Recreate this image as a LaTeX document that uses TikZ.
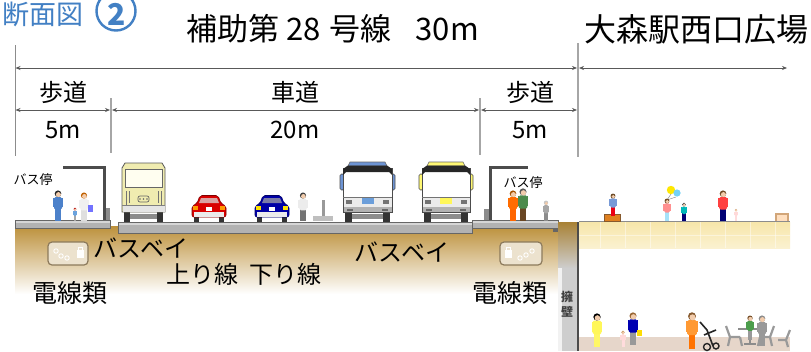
\documentclass[tikz,border=0pt]{standalone}
\usepackage{fontspec}
\setmainfont{Noto Sans CJK JP}
\usetikzlibrary{arrows.meta}

\definecolor{titleblue}{RGB}{66,128,196}
\definecolor{soil}{RGB}{198,152,62}
\definecolor{busyellow}{RGB}{240,236,176}
\definecolor{plazatop}{RGB}{247,230,170}
\definecolor{plazafloor}{RGB}{230,214,202}
\definecolor{wallgray}{RGB}{206,206,206}
\definecolor{skin}{RGB}{242,204,172}
\definecolor{conduitfill}{RGB}{236,226,206}
\definecolor{conduitedge}{RGB}{140,122,92}

\tikzset{
  dimline/.style={draw=black!65, line width=0.7pt,
    {Stealth[length=5pt,width=4pt]}-{Stealth[length=5pt,width=4pt]}},
  edgeline/.style={draw=black!45, line width=1pt},
  tickline/.style={draw=black!35, line width=2pt},
  hdr/.style={inner sep=0pt, font=\fontsize{31}{31}\selectfont},
  dimlabel/.style={inner sep=0pt, font=\fontsize{24}{24}\selectfont},
  undertext/.style={inner sep=0pt, font=\fontsize{24}{24}\selectfont},
  stoptext/.style={inner sep=0pt, font=\fontsize{13}{13}\selectfont},
  shelter/.style={draw=black!70, line width=3pt},
  conduit/.style={draw=conduitedge, fill=conduitfill, line width=1.2pt, rounded corners=4pt},
  slab/.style={fill=black!30, draw=black!60, line width=0.8pt},
}

% a standing figure: x, foot y, height, hair, top, bottom
\newcommand\walker[6]{%
  \begin{scope}[shift={(#1,#2)}, scale={#3/30}]
    \fill[#6] (-2.8,0) rectangle (-0.4,-13.5);
    \fill[#6] (0.4,0) rectangle (2.8,-13.5);
    \fill[#5, rounded corners=1.5pt] (-4,-11.5) rectangle (4,-24);
    \fill[#5] (-4.9,-23) rectangle (-3.3,-14);
    \fill[#5] (3.3,-23) rectangle (4.9,-14);
    \fill[#4] (0,-27.3) circle (3.3);
    \fill[skin] (0.4,-26.4) circle (2.5);
  \end{scope}}

% a bus seen from the front: left x, width, roof colour, plate colour
\newcommand\coach[4]{%
  \begin{scope}[shift={(#1,0)}]
    \fill[black!80] (2,211) rectangle (9,222);
    \fill[black!80] (#2-9,211) rectangle (#2-2,222);
    \fill[black!45] (9,214) rectangle (#2-9,219);
    \filldraw[fill=#3, draw=black!70, line width=0.6pt, rounded corners=1.5pt] (-3,174) rectangle (1,190);
    \filldraw[fill=#3, draw=black!70, line width=0.6pt, rounded corners=1.5pt] (#2-1,174) rectangle (#2+3,190);
    \filldraw[fill=white, draw=black!70, line width=0.8pt] (0,168) rectangle (#2,212);
    \filldraw[fill=#3, draw=black!60, line width=0.6pt] (5,166) -- (7,162) -- (#2-7,162) -- (#2-5,166) -- cycle;
    \fill[black!85] (0,169) -- (5,165.5) -- (#2-5,165.5) -- (#2,169) -- (#2,175) -- (#2-3,172) -- (3,172) -- (0,175) -- cycle;
    \fill[black!8] (0.5,197) rectangle (#2-0.5,211.5);
    \draw[black!55, line width=0.6pt] (0,197) -- (#2,197);
    \fill[black!55] (3,200) rectangle (9,204);
    \fill[black!55] (#2-9,200) rectangle (#2-3,204);
    \fill[#4] ({#2/2-6},198) rectangle ({#2/2+6},204);
    \fill[black!30] (0.5,207) rectangle (#2-0.5,211.5);
    \fill[black!60] (4,208.5) rectangle (10,210.5);
    \fill[black!60] (#2-10,208.5) rectangle (#2-4,210.5);
  \end{scope}}

% a car seen from behind: centre x, body colour, outline colour, lamp colour
\newcommand\sedan[4]{%
  \begin{scope}[shift={(#1,0)}]
    \fill[black!80] (-15,214) rectangle (-10,222);
    \fill[black!80] (10,214) rectangle (15,222);
    \filldraw[fill=#2, draw=#3, line width=0.6pt, rounded corners=2pt]
      (-17,217) -- (-17,206) -- (-12,203.5) -- (-9,195.5) -- (9,195.5) -- (12,203.5) -- (17,206) -- (17,217) -- cycle;
    \fill[white!75!#2] (-8,198) -- (8,198) -- (10,203) -- (-10,203) -- cycle;
    \fill[#4] (-16,206) rectangle (-11,209.5);
    \fill[#4] (11,206) rectangle (16,209.5);
    \fill[black!8] (-15,212) rectangle (15,217);
    \fill[white] (-3,207) rectangle (3,211);
  \end{scope}}

\begin{document}
\begin{tikzpicture}[x=1pt, y=-1pt]
\useasboundingbox (0,0) rectangle (811,351);
\fill[white] (0,0) rectangle (811,351);

% ---------- headings ----------
\node[inner sep=0pt, anchor=east, text=titleblue, font=\fontsize{27}{27}\selectfont] (sec) at (84,14) {断面図};
\draw[titleblue, line width=2.4pt] (116,11) circle (19.5);
\node[inner sep=0pt, text=titleblue, font=\fontsize{30}{30}\selectfont\bfseries] (num2) at (116.5,14) {2};
\node[hdr, anchor=west] (route) at (186,29) {補助第\hspace{7pt}28\hspace{9pt}号線\hspace{24pt}30m};
\node[hdr, font=\fontsize{32}{32}\selectfont] (plaza) at (696,29) {大森駅西口広場};

% ---------- dimension lines ----------
\coordinate (eL) at (15,45);   \coordinate (eLb) at (15,156);
\coordinate (eR) at (578,43);  \coordinate (eRb) at (578,157);
\coordinate (t1) at (111,98);  \coordinate (t1b) at (111,153);
\coordinate (t2) at (480,98);  \coordinate (t2b) at (480,155);
\draw[edgeline] (eL) -- (eLb);
\draw[edgeline, line width=2pt, draw=black!35] (eR) -- (eRb);
\draw[tickline] (t1) -- (t1b);
\draw[tickline] (t2) -- (t2b);

\coordinate (a0) at (15.5,68);  \coordinate (a1) at (577,68);
\coordinate (a2) at (579,68);   \coordinate (a3) at (787,68);
\draw[dimline] (a0) -- (a1);
\draw[dimline] (a2) -- (a3);
\coordinate (b0) at (15.5,110); \coordinate (b1) at (110,110);
\coordinate (b2) at (112,110);  \coordinate (b3) at (479,110);
\coordinate (b4) at (481,110);  \coordinate (b5) at (577,110);
\draw[dimline] (b0) -- (b1);
\draw[dimline] (b2) -- (b3);
\draw[dimline] (b4) -- (b5);

\node[dimlabel] (walkL)  at (63,92)   {歩道};
\node[dimlabel] (walkLw) at (63,130)  {5m};
\node[dimlabel] (road)   at (295,92)  {車道};
\node[dimlabel] (roadw)  at (295,130) {20m};
\node[dimlabel] (walkR)  at (530,92)  {歩道};
\node[dimlabel] (walkRw) at (530,130) {5m};

% ---------- ground ----------
\shade[top color=soil!95!black, middle color=soil!50, bottom color=white] (15,226) rectangle (558,294);
\filldraw[slab] (15,220) rectangle (110,228);
\fill[black!16] (15.5,220.5) rectangle (109.5,222.5);
\filldraw[slab] (118,222) rectangle (472,233);
\fill[black!16] (118.5,222.5) rectangle (471.5,224.5);
\filldraw[slab] (472,220) rectangle (558,228);
\fill[black!16] (472.5,220.5) rectangle (557.5,222.5);
\fill[black!60] (553,228) rectangle (560,232);

% retaining wall
\fill[wallgray] (558,222) rectangle (578,351);
\shade[top color=soil!85!black, bottom color=wallgray] (558,222) rectangle (578,268);
\fill[white!90!gray] (558,268) rectangle (562,351);
\draw[black!70, line width=1.6pt] (578,222) -- (578,351);
\node[inner sep=0pt, font=\fontsize{12}{12}\selectfont\bfseries, text=black!75] (wallA) at (567,297) {擁};
\node[inner sep=0pt, font=\fontsize{12}{12}\selectfont\bfseries, text=black!75] (wallB) at (567,312) {壁};

% plaza decks
\shade[top color=plazatop, bottom color=plazatop!55] (579,222) rectangle (790,248);
\foreach \gx in {600,625,...,775} \draw[white, opacity=0.45, line width=0.6pt] (\gx,222) -- (\gx,248);
\draw[white, opacity=0.45, line width=0.6pt] (579,235) -- (790,235);
\draw[black!45, line width=0.8pt] (579,221.5) -- (790,221.5);
\fill[plazafloor] (579,337) rectangle (790,351);

% ---------- underground labels and conduits ----------
\node[undertext] (bayL)  at (141,248) {バスベイ};
\node[undertext] (upL)   at (202,274) {上り線};
\node[undertext] (downL) at (285,274) {下り線};
\node[undertext] (bayR)  at (402,252) {バスベイ};
\node[undertext, font=\fontsize{25}{25}\selectfont] (cabL) at (70,293)  {電線類};
\node[undertext, font=\fontsize{25}{25}\selectfont] (cabR) at (510,293) {電線類};

\draw[conduit] (48,242) rectangle (88,265);
\foreach \cx/\cy in {56/251,61/256,67/258} \draw[white, line width=0.9pt] (\cx,\cy) circle (2.2);
\fill[white] (77,250) rectangle (84,258);
\draw[white, line width=1pt] (78.5,250) -- (78.5,247) -- (82.5,247) -- (82.5,250);
\draw[conduit] (500,242) rectangle (542,265);
\fill[white] (505,250) rectangle (512,258);
\draw[white, line width=1pt] (506.5,250) -- (506.5,247) -- (510.5,247) -- (510.5,250);
\foreach \cx/\cy in {520/258,526/255,532/251} \draw[white, line width=0.9pt] (\cx,\cy) circle (2.2);

% ---------- bus stops ----------
\draw[shelter] (63,167) -- (104,167) -- (104,220);
\fill[black!45] (105.5,208) rectangle (110,220);
\draw[shelter] (490,220) -- (490,167) -- (528,167);
\fill[black!45] (484,209) rectangle (488.5,220);
\node[stoptext] (stopL) at (33,180) {バス停};
\node[stoptext] (stopR) at (523,183) {バス停};

% people waiting on the sidewalks
\walker{58}{221}{30}{black!85}{cyan!45!blue!75}{cyan!45!blue!75}
\walker{75}{221}{13}{red!70!black}{cyan!60!blue!60}{black!35}
\walker{84}{221}{28}{orange!75!black}{white!88!gray}{white!75!gray}
\fill[blue!55] (88,205) rectangle (93,212);
\walker{513}{221}{30}{orange!65!black}{orange!85!red}{orange!80!red}
\walker{523}{221}{32}{black!65}{green!35!black!70}{brown!55!black}
\walker{546}{221}{20}{white!55!gray}{black!35}{black!45}

% ---------- vehicles ----------
% rear of the bus at the bay
\begin{scope}[shift={(122,0)}]
  \fill[black!80] (2,212) rectangle (8,222);
  \fill[black!80] (35,212) rectangle (41,222);
  \fill[black!45] (8,214) rectangle (35,219);
  \filldraw[fill=busyellow, draw=black!65, line width=0.8pt] (0,212) -- (0,168) -- (3,163) -- (40,163) -- (43,168) -- (43,212) -- cycle;
  \filldraw[fill=white!94!yellow, draw=black!60, line width=0.6pt] (3,169) rectangle (40,187);
  \draw[black!55, line width=0.6pt] (4,191) -- (4,206) (39,191) -- (39,206);
  \draw[black!55, line width=0.6pt] (7,191) -- (7,203) (36,191) -- (36,203);
  \draw[black!60, line width=0.7pt, rounded corners=2pt] (16,196) rectangle (27,202);
  \fill[black!60] (18,199) circle (0.8) (21.5,199) circle (0.8) (25,199) circle (0.8);
  \fill[white!80!gray] (0.5,205) rectangle (42.5,211.5);
  \draw[black!50, line width=0.5pt] (0,205) -- (43,205);
\end{scope}
\sedan{209}{red!85!black}{red!50!black}{orange!80!yellow}
\sedan{272}{blue!65!black}{blue!40!black}{yellow!85!orange}
\walker{303}{221}{28}{black!75}{white!85!gray}{black!55}
\fill[black!25] (313,216) rectangle (333,221);
\fill[black!40] (321.5,200) rectangle (324.5,216);
\coach{343}{49}{cyan!45!blue!60}{cyan!55!blue!60}
\coach{422}{48}{yellow!55!white}{yellow!65!white}

% ---------- people in the square ----------
\filldraw[fill=orange!50!brown, draw=brown!70!black, line width=0.6pt] (604,214) rectangle (620,221);
\walker{613}{216}{22}{brown!55!black}{cyan!45!blue!55}{red!70!purple}
\draw[black!50, line width=0.4pt] (667,200) -- (671,194) (667,200) -- (676,197);
\fill[yellow!90!orange] (671,190) circle (4.2);
\fill[cyan!55] (677,193) circle (3.6);
\walker{667}{221}{22}{brown!60!black}{pink!75!red}{cyan!35!white}
\walker{684}{221}{18}{black!70}{teal!55!cyan}{blue!45!black}
\walker{723}{221}{30}{brown!60!black}{red!75}{blue!45!black}
\walker{736}{221}{12}{brown!70}{pink!60}{pink!55}
\filldraw[fill=orange!25, draw=brown!70, line width=1.2pt] (776,221) -- (776,214) -- (788,214) -- (788,221);

\walker{597}{347}{33}{black}{yellow!65}{yellow!60!white}
\walker{623}{347}{16}{brown!80}{pink!60}{pink!55}
\walker{633}{345}{32}{brown!80!black}{blue!70!black}{black!40}
\fill[yellow!80!orange] (637,330) rectangle (642,336);
\walker{692}{349}{36}{brown!70!black}{orange!80}{orange!90!red}
\draw[black!85, line width=1.6pt] (700,322) -- (707,330) -- (713,346) (704,335) -- (716,330);
\draw[black!85, line width=1.4pt] (707,347) circle (3.5) (716,346) circle (3);
\draw[black!45, line width=2pt] (738,329) -- (762,329) (750,329) -- (750,344) (744,344) -- (756,344);
\draw[black!40, line width=2.2pt, line join=round] (726,326) -- (730,337) -- (740,337) (730,337) -- (728,346) (740,337) -- (742,346);
\draw[black!40, line width=2.2pt, line join=round] (774,326) -- (770,337) -- (760,337) (770,337) -- (772,346) (760,337) -- (758,346);
\walker{750}{340}{24}{brown!60!black}{green!45!black!70}{black!40}
\walker{762}{346}{30}{black!45}{black!40}{black!40}
\draw[black!40, line width=2.2pt, line join=round] (790,330) -- (786,340) -- (778,340) (786,340) -- (788,347);
\end{tikzpicture}
\end{document}
